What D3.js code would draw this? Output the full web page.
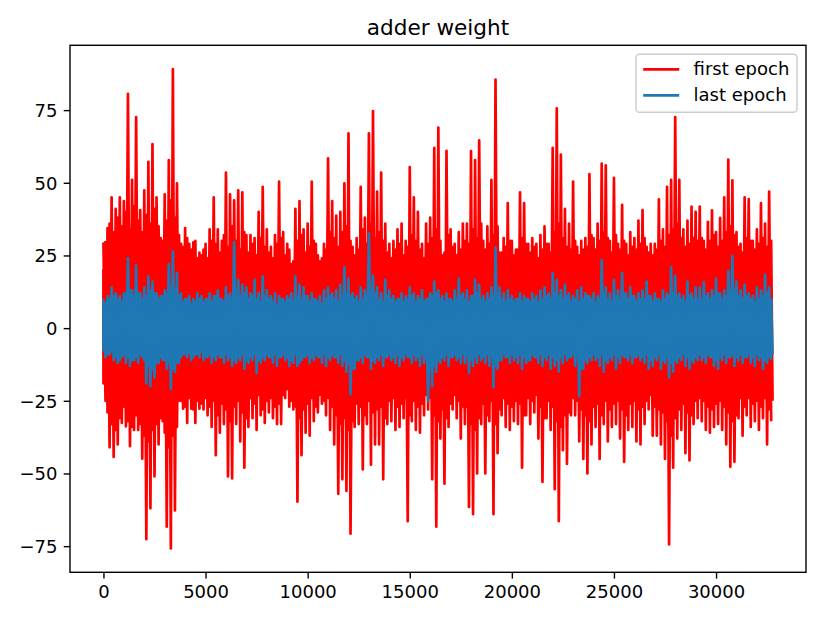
<!DOCTYPE html>
<html>
<head>
<meta charset="utf-8">
<script src="https://cdn.jsdelivr.net/npm/d3@7"></script>
<style>
  body { margin: 0; background: #fff; }
  svg text { font-family: "DejaVu Sans", sans-serif; fill: #000; }
</style>
</head>
<body>
<div id="chart"></div>
<script>
// adder weight: envelope of each epoch's weights, one upper/lower pair per 200 weights
const sampleStep = 200;
// solid middle band of each epoch, one pair per 1024 weights
const coreStep = 1024;

// spike tips
const firstEpochUpper = [
  29.5, 34.4, 45, 41, 45, 43.7, 80.6, 51, 72.6, 40.6, 47.4, 57.2, 63.3, 45, 31, 46, 57.8, 89.1, 49.8, 29, 34.4, 29, 29.5, 24,
  25, 29, 34, 45, 34, 30, 53.5, 46, 44, 47.4, 46.7, 32, 32, 31, 40, 48.6, 34, 28, 32, 50.4, 33, 29, 22, 41, 43.7, 34, 36, 50.4, 29, 23, 29, 58.4,
  43.7, 38.7, 40, 49.8, 67, 28, 31, 48.6, 38, 67, 74.7, 47, 53.5, 36, 29, 30, 34, 36, 30, 55.4, 45, 40, 29, 36, 38, 62, 69, 25, 61, 34, 29, 33,
  36, 36, 60.9, 57.8, 64.6, 30, 35, 51, 85.5, 26, 31, 43, 30, 27, 46.7, 43, 29, 31, 29, 32, 35, 29, 62, 75.6, 59.7, 41, 36, 50.4, 28, 30, 31, 53,
  31, 36, 56.6, 56, 30, 51.7, 29, 42.4, 29, 33, 31, 37, 40.6, 28, 29, 29, 44.3, 34, 48.6, 51, 72.6, 51, 34, 37, 41.8, 40,
  41.8, 30, 36.6, 40.5, 33, 37.9, 45, 58, 50.8, 33, 29, 45, 44.4, 30, 34, 43, 36, 47
];
const firstEpochLower = [
  -25, -41, -44.3, -40, -32.6, -33.8, -40.6, -35, -35, -44.9, -72.6, -62, -51, -40, -32, -68.3, -75.8, -62.7, -25, -27.7, -32.6, -27.7, -32.6, -27.7,
  -28, -30, -34, -43.7, -36, -33, -51, -51.7, -33, -39, -48, -34, -31, -35, -30, -32.6, -29, -31, -33, -33, -24, -27, -28, -59.7, -43.7, -36, -37, -32, -29, -26, -30, -35,
  -40, -57, -52, -56, -70.7, -34, -33, -48.6, -33, -47, -40, -40, -52, -33, -32, -35, -34, -31, -66.4, -32, -35, -36, -30, -28, -52, -68.3, -38, -53.5, -34, -28, -31, -38,
  -33, -61.5, -64, -50, -33, -50, -32, -64, -43, -30, -34, -35, -32, -33, -48, -30, -33, -29, -38, -52.9, -31, -35, -55.4, -66.4, -42, -46.7, -30, -30, -39, -45, -50, -40,
  -34, -45, -33, -39, -34, -33, -38, -46, -35, -34, -39, -40, -33, -28, -37, -37, -40, -45, -74.4, -48, -38, -35, -43, -45.5, -33, -31,
  -32, -35, -36, -34, -33, -35, -40, -47.7, -46, -31, -37, -30, -34, -32, -35, -31, -40, -32
];
// shorter hairs in between the spikes
const firstEpochGrassUpper = [
  30, 36, 33, 38, 35, 40, 34, 42, 37, 33, 39, 36, 41, 35, 30, 37, 44, 38, 32, 28, 31, 27, 30, 26,
  27, 24, 30, 29, 26, 32, 28, 35, 30, 27, 33, 26, 29, 25, 31, 28, 26, 24, 29, 31, 25, 27, 23, 30, 32, 26, 28, 30, 25, 24, 27, 33,
  31, 28, 33, 35, 30, 25, 27, 34, 29, 36, 31, 33, 30, 26, 24, 27, 29, 25, 28, 32, 30, 27, 24, 29, 31, 34, 30, 26, 32, 28, 25, 27,
  30, 29, 34, 31, 36, 27, 29, 32, 35, 26, 28, 30, 25, 27, 31, 29, 26, 28, 24, 27, 29, 26, 33, 36, 31, 28, 27, 30, 25, 27, 28, 32,
  27, 30, 33, 31, 26, 32, 27, 30, 25, 28, 27, 29, 31, 26, 25, 27, 30, 28, 32, 34, 36, 31, 28, 29, 31, 30,
  31, 27, 30, 32, 28, 30, 33, 35, 32, 28, 26, 31, 30, 27, 29, 31, 28, 30
];
const firstEpochGrassLower = [
  -29, -33, -35, -31, -27, -32, -34, -30, -33, -37, -39, -35, -33, -31, -36, -41, -37, -34, -25, -27, -24, -28, -25, -26,
  -24, -27, -25, -30, -26, -28, -32, -27, -25, -29, -31, -24, -26, -23, -28, -25, -24, -27, -26, -23, -21, -25, -27, -31, -28, -26, -24, -27, -23, -25, -24, -27,
  -30, -33, -31, -35, -32, -26, -27, -30, -25, -29, -28, -27, -31, -25, -24, -27, -26, -24, -30, -25, -27, -26, -23, -24, -30, -32, -28, -31, -26, -23, -25, -27,
  -27, -33, -35, -31, -26, -30, -25, -33, -28, -24, -26, -27, -25, -26, -30, -24, -25, -23, -27, -31, -25, -27, -32, -34, -30, -29, -24, -25, -28, -30, -32, -27,
  -26, -30, -25, -28, -26, -25, -28, -30, -26, -25, -28, -27, -25, -23, -27, -28, -29, -32, -37, -31, -28, -26, -29, -30, -25, -24,
  -25, -27, -28, -26, -25, -27, -29, -32, -30, -24, -27, -24, -26, -25, -27, -24, -28, -25
];
const firstEpochCoreUpper = [
  20, 22, 25, 26, 20, 18, 19, 18, 17, 17, 19, 18, 18, 20, 18, 17, 17,
  18, 17, 18, 17, 17, 19, 18, 18, 17, 17, 20, 19, 18, 19, 18, 18
];
const firstEpochCoreLower = [
  -19, -22, -24, -25, -20, -19, -20, -19, -18, -18, -19, -19, -20, -20, -19, -18, -19,
  -18, -19, -20, -19, -18, -20, -19, -18, -19, -19, -20, -19, -18, -18, -19, -18
];

const lastEpochUpper = [
  10, 11, 14, 12, 11, 12, 24, 13, 21.5, 12, 14, 17.8, 16, 12, 11, 13, 22, 26.4, 19, 12, 10, 11, 10, 12,
  11, 10, 12, 11, 13, 10, 14, 12, 29.5, 16.6, 15, 14, 12, 16.6, 12, 17.8, 13, 11, 12, 11, 10, 11, 12, 17.8, 15, 14, 11, 12, 10, 11, 13, 14,
  12, 13, 15, 21, 17, 12, 11, 14, 13, 32.6, 18, 14, 12, 16.6, 13, 11, 10, 12, 11, 14, 12, 11, 13, 10, 12, 16, 13, 11, 12, 10, 13, 17,
  12, 13, 11, 16.6, 15, 11, 12, 14, 27.7, 14, 12, 13, 11, 10, 12, 11, 10, 12, 11, 13, 14, 12, 19, 16.6, 13, 15, 12, 11, 13, 14, 12, 11,
  12, 11, 23.4, 14, 12, 16.6, 13, 19, 12, 14, 11, 12, 13, 16, 11, 12, 10, 13, 12, 21, 18, 12, 11, 16, 12, 14,
  14, 15.8, 12, 13, 17, 12, 13, 19.7, 24.9, 16, 13, 15, 12, 11, 14, 13, 18.4, 14
];
const lastEpochLower = [
  -10, -9, -11, -12, -10, -12, -13, -11, -12, -10, -19, -20, -17, -12, -11, -14, -21, -15, -12, -9, -10, -11, -9, -10,
  -11, -10, -12, -11, -10, -12, -11, -13, -12, -11, -14, -12, -11, -15.4, -12, -11, -10, -12, -13, -10, -11, -13, -12, -13, -11, -10, -12, -11, -10, -12, -13, -11,
  -10, -12, -13, -15, -22.8, -14, -11, -12, -10, -14, -12, -11, -13, -10, -11, -12, -13, -11, -10, -12, -11, -13, -12, -25, -20, -15, -12, -11, -13, -10, -11, -12,
  -12, -15.4, -13, -12, -11, -12, -13, -20.3, -14, -11, -10, -12, -11, -12, -14, -12, -11, -10, -12, -13, -11, -14, -13, -15, -12, -11, -10, -13, -23.4, -14, -12, -11,
  -11, -13, -15, -12, -11, -14, -12, -10, -11, -12, -10, -11, -12, -14, -13, -11, -14, -12, -17, -15, -12, -11, -13, -14, -12, -11,
  -11, -12, -10, -13, -14, -11, -12, -10, -13, -11, -12, -10, -12, -13, -11, -14, -12, -11
];
const lastEpochGrassUpper = [
  9, 10, 11, 10, 9, 12, 13, 11, 12, 10, 11, 13, 12, 10, 11, 12, 14, 13, 11, 9, 10, 8, 9, 10,
  9, 10, 9, 11, 10, 9, 11, 10, 13, 11, 12, 10, 11, 10, 9, 11, 10, 9, 8, 10, 9, 10, 9, 11, 10, 11, 9, 10, 9, 8, 10, 11,
  10, 9, 11, 12, 11, 10, 9, 10, 11, 13, 12, 10, 9, 11, 10, 9, 10, 9, 10, 11, 9, 10, 9, 10, 11, 12, 10, 9, 10, 9, 10, 11,
  10, 9, 11, 12, 10, 9, 10, 11, 12, 10, 9, 10, 9, 10, 9, 10, 9, 10, 9, 10, 11, 10, 12, 11, 10, 11, 9, 10, 9, 10, 11, 10,
  9, 10, 12, 10, 9, 11, 10, 12, 10, 11, 9, 10, 10, 11, 9, 10, 9, 10, 11, 12, 11, 10, 9, 11, 10, 10,
  10, 11, 10, 11, 12, 10, 11, 12, 13, 11, 10, 11, 10, 9, 10, 11, 12, 10
];
const lastEpochGrassLower = [
  -9, -8, -10, -11, -9, -10, -11, -10, -9, -11, -13, -14, -12, -10, -11, -12, -14, -12, -10, -9, -8, -10, -9, -8,
  -10, -9, -10, -9, -10, -9, -10, -11, -10, -9, -11, -10, -9, -11, -10, -9, -10, -9, -10, -9, -10, -11, -9, -12, -10, -9, -10, -9, -10, -9, -10, -9,
  -10, -9, -11, -12, -14, -11, -10, -9, -10, -11, -10, -9, -10, -9, -10, -9, -10, -9, -10, -9, -10, -9, -10, -14, -13, -11, -10, -9, -10, -9, -10, -9,
  -10, -11, -10, -9, -10, -9, -10, -13, -11, -9, -10, -9, -10, -9, -10, -11, -9, -10, -9, -10, -9, -10, -11, -10, -9, -10, -9, -10, -14, -11, -10, -9,
  -10, -9, -11, -10, -9, -10, -9, -10, -9, -10, -9, -10, -9, -11, -10, -9, -11, -10, -12, -11, -10, -9, -10, -11, -10, -9,
  -10, -9, -10, -11, -10, -9, -10, -9, -10, -9, -10, -9, -10, -9, -10, -11, -10, -9
];
const lastEpochCoreUpper = [
  7.5, 8, 9, 9.5, 8.5, 8, 8, 8, 7.5, 7.5, 8, 8, 8, 8.5, 8, 7.5, 8,
  8, 7.5, 8, 8, 7.5, 8, 8, 7.5, 8, 8, 8.5, 8, 8, 8.5, 8, 8
];
const lastEpochCoreLower = [
  -7.5, -8, -9, -9.5, -8.5, -8, -8, -8, -7.5, -8, -8, -8, -8, -8.5, -8, -8.5, -8,
  -8, -8, -8, -8, -8, -8.5, -8, -8, -8, -8, -8.5, -8, -8, -8, -8, -7.5
];

const seriesNames = ["first epoch", "last epoch"];
const seriesColors = ["#ff0000", "#1f77b4"];
const xTicks = [0, 5000, 10000, 15000, 20000, 25000, 30000];
const yTicks = [-75, -50, -25, 0, 25, 50, 75];
const nWeights = 32768;

// the weights as one line going up and down between two envelopes
function zigzag(upper, lower, offset) {
  return upper.flatMap((v, i) => [
    [i * sampleStep + offset, v],
    [Math.min(i * sampleStep + offset + sampleStep / 2, nWeights - 1), lower[i]]
  ]);
}

const W = 830, H = 623;
const margin = { top: 45.3, right: 24, bottom: 50.7, left: 70 };
const width = W - margin.left - margin.right;
const height = H - margin.top - margin.bottom;

const svg = d3.select("#chart").append("svg")
  .attr("width", W)
  .attr("height", H);

const g = svg.append("g")
  .attr("transform", `translate(${margin.left},${margin.top})`);

// matplotlib style 5% margins on both axes
const xPad = (nWeights - 1) * 0.05;
const x = d3.scaleLinear()
  .domain([-xPad, nWeights - 1 + xPad])
  .range([0, width]);

const y = d3.scaleLinear()
  .domain([-84.0, 97.3])
  .range([height, 0]);

const line = d3.line()
  .x(d => x(d[0]))
  .y(d => y(d[1]));

const band = d3.area()
  .x((d, i) => x(Math.min(i * coreStep, nWeights - 100)))
  .y0(d => y(d[1]))
  .y1(d => y(d[0]));

const series = [
  { up: firstEpochUpper, low: firstEpochLower, grassUp: firstEpochGrassUpper, grassLow: firstEpochGrassLower,
    coreUp: firstEpochCoreUpper, coreLow: firstEpochCoreLower },
  { up: lastEpochUpper, low: lastEpochLower, grassUp: lastEpochGrassUpper, grassLow: lastEpochGrassLower,
    coreUp: lastEpochCoreUpper, coreLow: lastEpochCoreLower }
];

series.forEach((s, k) => {
  const layer = g.append("g")
    .attr("stroke", seriesColors[k])
    .attr("stroke-width", 2.7)
    .attr("stroke-linejoin", "round");
  layer.append("path")
    .datum(s.coreUp.map((v, i) => [v, s.coreLow[i]]))
    .attr("fill", seriesColors[k])
    .attr("d", band);
  layer.append("path")
    .datum(zigzag(s.grassUp, s.grassLow, sampleStep / 2))
    .attr("fill", "none")
    .attr("d", line);
  layer.append("path")
    .datum(zigzag(s.up, s.low, 0))
    .attr("fill", "none")
    .attr("d", line);
});

// axes
const xAxis = g.append("g")
  .attr("transform", `translate(0,${height})`)
  .call(d3.axisBottom(x).tickValues(xTicks).tickFormat(d3.format("d")).tickSizeInner(6.3).tickSizeOuter(0).tickPadding(6.3));
xAxis.selectAll("text").attr("dy", "0.73em").style("font-size", "18px");

const yAxis = g.append("g")
  .call(d3.axisLeft(y).tickValues(yTicks).tickFormat(d3.format("d")).tickSizeInner(6.3).tickSizeOuter(0).tickPadding(6.3));
yAxis.selectAll("text").attr("dy", "0.36em").style("font-size", "18px");

[xAxis, yAxis].forEach(a => {
  a.select(".domain").remove();
  a.selectAll(".tick line").attr("stroke", "#000").attr("stroke-width", 1.4);
});

// frame
g.append("rect")
  .attr("width", width)
  .attr("height", height)
  .attr("fill", "none")
  .attr("stroke", "#000")
  .attr("stroke-width", 1.4);

// title
svg.append("text")
  .attr("x", margin.left + width / 2)
  .attr("y", margin.top - 10.8)
  .attr("text-anchor", "middle")
  .style("font-size", "21.6px")
  .text("adder weight");

// legend
const legend = g.append("g")
  .attr("transform", `translate(${width - 9 - 161},9)`);

legend.append("rect")
  .attr("width", 161)
  .attr("height", 58)
  .attr("rx", 3.6)
  .attr("fill", "#fff")
  .attr("fill-opacity", 0.8)
  .attr("stroke", "#cccccc")
  .attr("stroke-width", 1.4);

seriesNames.forEach((name, k) => {
  const row = legend.append("g").attr("transform", `translate(7.2,${15 + k * 26.1})`);
  row.append("line")
    .attr("x1", 0).attr("x2", 36)
    .attr("stroke", seriesColors[k])
    .attr("stroke-width", 2.7);
  row.append("text")
    .attr("x", 50.4)
    .attr("y", 5.2)
    .style("font-size", "18px")
    .text(name);
});
</script>
</body>
</html>
